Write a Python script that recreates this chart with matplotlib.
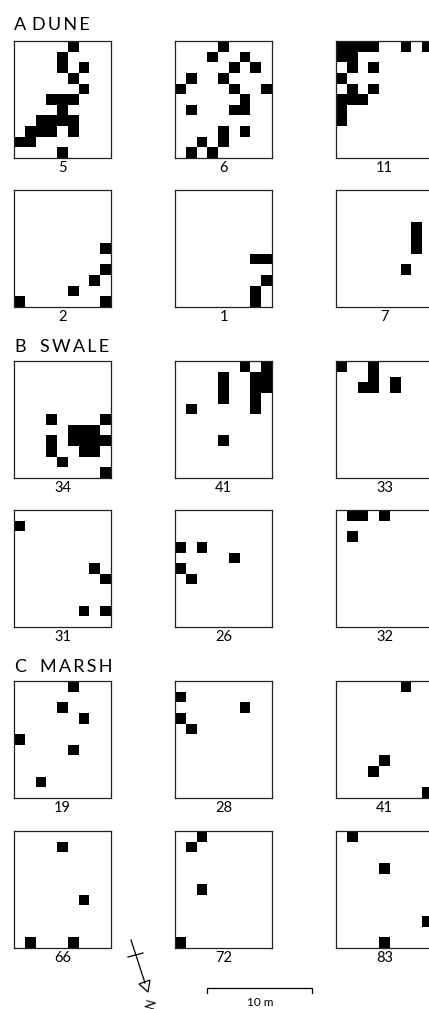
import matplotlib
matplotlib.use("Agg")
import matplotlib.pyplot as plt
from matplotlib.patches import Rectangle, Polygon

W, H = 429, 1009
NCOL, NROW = 9, 11

# filled 1 m cells per plot, (column, row) counted from the top-left corner
dune_ids = ["5", "6", "11", "2", "1", "7"]
dune_cells = [
    [(5,0),(4,1),(4,2),(6,2),(5,3),(6,4),(3,5),(4,5),(5,5),(4,6),(2,7),(3,7),(4,7),(5,7),
     (1,8),(2,8),(3,8),(5,8),(0,9),(1,9),(4,10)],
    [(4,0),(3,1),(6,1),(5,2),(7,2),(1,3),(4,3),(0,4),(5,4),(8,4),(6,5),(1,6),(5,6),(6,6),
     (4,8),(6,8),(2,9),(4,9),(1,10),(3,10)],
    [(0,0),(1,0),(2,0),(3,0),(6,0),(8,0),(0,1),(1,1),(1,2),(3,2),(0,3),(1,4),(3,4),
     (0,5),(1,5),(2,5),(0,6),(0,7)],
    [(8,5),(8,7),(7,8),(5,9),(0,10),(8,10)],
    [(7,6),(8,6),(8,8),(7,9),(7,10)],
    [(7,3),(7,4),(7,5),(6,7)],
]
swale_ids = ["34", "41", "33", "31", "26", "32"]
swale_cells = [
    [(3,5),(8,5),(5,6),(6,6),(7,6),(3,7),(5,7),(6,7),(7,7),(8,7),(3,8),(6,8),(7,8),(4,9),(8,10)],
    [(6,0),(8,0),(4,1),(7,1),(8,1),(4,2),(7,2),(8,2),(4,3),(7,3),(1,4),(7,4),(4,7)],
    [(0,0),(3,0),(3,1),(2,2),(3,2),(5,1.5),(5,2)],
    [(0,1),(7,5),(8,6),(6,9),(8,9)],
    [(0,3),(2,3),(5,4),(0,5),(1,6)],
    [(1,0),(2,0),(4,0),(1,2)],
]
marsh_ids = ["19", "28", "41", "66", "72", "83"]
marsh_cells = [
    [(5,0),(4,2),(6,3),(0,5),(5,6),(2,9)],
    [(0,1),(6,2),(0,3),(1,4)],
    [(6,0),(4,7),(3,8),(8,10)],
    [(4,1),(6,6),(1,10),(5,10)],
    [(2,0),(1,1),(2,5),(0,10)],
    [(1,0),(4,3),(8,8),(4,10)],
]
zones = ["A", "B", "C"]
zone_names = ["D\u2009U\u2009N\u2009E", "S\u2009W\u2009A\u2009L\u2009E", "M\u2009A\u2009R\u2009S\u2009H"]

FONT = ["Lato", "DejaVu Sans"]
col_x = [14, 175, 336]
row_top = [41, 190, 361, 510, 681, 831]
title_base = [30, 352, 672]
PW, PH = 97, 117

fig = plt.figure(figsize=(W/100, H/100), dpi=100)
ov = fig.add_axes([0, 0, 1, 1])
ov.set_xlim(0, W); ov.set_ylim(H, 0); ov.axis("off")

def panel(x, top, cells, label):
    ax = fig.add_axes([x/W, 1-(top+PH)/H, PW/W, PH/H])
    ax.set_xlim(0, NCOL); ax.set_ylim(NROW, 0)
    ax.set_xticks([]); ax.set_yticks([])
    for s in ax.spines.values():
        s.set_linewidth(0.9); s.set_color("#222222")
    for c, r in cells:
        ax.add_patch(Rectangle((c, r), 1, 1, facecolor="black", edgecolor="none"))
    ax.text(NCOL/2, NROW+1.3, label, ha="center", va="baseline", fontsize=10.5, family=FONT)

all_ids = [dune_ids, swale_ids, marsh_ids]
all_cells = [dune_cells, swale_cells, marsh_cells]
for z in range(3):
    ov.text(14, title_base[z], zones[z], fontsize=13, family=FONT, va="baseline")
    ov.text(32 if z == 0 else 40, title_base[z], zone_names[z], fontsize=13, family=FONT, va="baseline")
    for k in range(6):
        panel(col_x[k % 3], row_top[2*z + k // 3], all_cells[z][k], all_ids[z][k])

# north arrow
ov.plot([131, 145], [940, 983], color="black", lw=0.9)
ov.plot([128, 143], [957, 953], color="black", lw=0.9)
ov.add_patch(Polygon([(139, 984), (150, 980), (148, 992)], closed=True, fill=False, edgecolor="black", lw=0.9))
ov.text(151, 1003, "N", rotation=75, ha="center", va="center", fontsize=9, family=FONT)

# scale bar
ov.plot([207, 207, 312, 312], [993, 988, 988, 993], color="black", lw=0.9)
ov.text(260, 1006, "10 m", ha="center", va="baseline", fontsize=8.5, family=FONT)

fig.savefig("out.png", dpi=100)
